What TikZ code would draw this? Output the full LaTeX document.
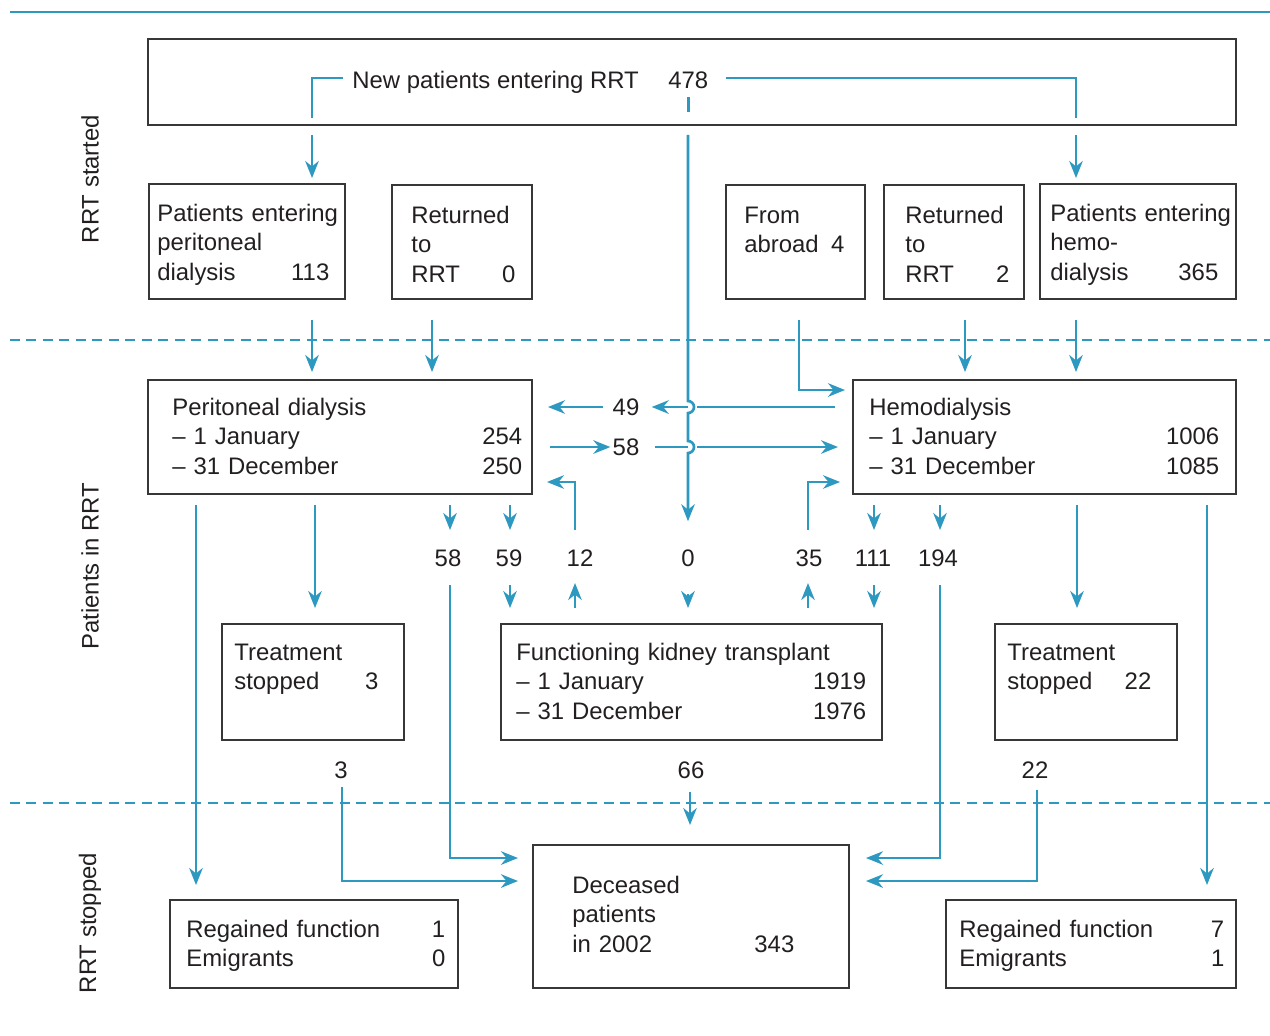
\documentclass[tikz,border=0pt]{standalone}
\usepackage{fontspec}
\setmainfont{Liberation Sans}
\usepackage{tikz}
\usetikzlibrary{arrows.meta,calc}

\definecolor{rrtblue}{RGB}{45,152,192}
\definecolor{boxgray}{RGB}{55,55,55}
\definecolor{inkgray}{RGB}{35,31,32}
\newcommand{\chartfont}{\fontsize{13.6}{16.8}\selectfont}

\begin{document}
\begin{tikzpicture}[
		x=0.02cm, y=-0.02cm,
		box/.style={draw=boxgray, line width=0.8pt, inner sep=0pt, outer sep=0pt},
		body/.style={anchor=base west, inner sep=0pt, align=left, text=inkgray, font=\chartfont},
		num/.style={inner sep=0pt, text=inkgray, font=\chartfont},
		side/.style={rotate=90, inner sep=0pt, text=inkgray, font=\chartfont},
		feed/.style={draw=rrtblue, line width=1.5pt},
		flow/.style={feed, -{Stealth[length=0.34cm, width=0.27cm, inset=0.11cm]}},
		divider/.style={draw=rrtblue, line width=0.6pt, dash pattern=on 0.2cm off 0.13cm}
		]
		
		\useasboundingbox (0,0) rectangle (1270,1035);
		
		% rules
		\draw[feed] (10,12) -- (1270,12);
		\draw[divider] (10,340) -- (1270,340);
		\draw[divider] (10,803) -- (1270,803);
		
		% side titles
		\node[side] (started) at (90,179) {RRT started};
		\node[side] (inrrt) at (90,566) {Patients in RRT};
		\node[side] (stopped) at (90,923) {RRT stopped};
		
		% boxes
		\node[box, minimum width=21.76cm, minimum height=1.72cm] (top) at (692,82) {};
		\node[box, minimum width=3.92cm, minimum height=2.3cm] (pdin) at (247,241.5) {};
		\node[box, minimum width=2.8cm, minimum height=2.28cm] (retpd) at (462,242) {};
		\node[box, minimum width=2.78cm, minimum height=2.28cm] (abroad) at (795.5,242) {};
		\node[box, minimum width=2.8cm, minimum height=2.28cm] (rethd) at (954,242) {};
		\node[box, minimum width=3.92cm, minimum height=2.3cm] (hdin) at (1138,241.5) {};
		\node[box, minimum width=7.68cm, minimum height=2.28cm] (pd) at (340,437) {};
		\node[box, minimum width=7.66cm, minimum height=2.28cm] (hd) at (1044.5,437) {};
		\node[box, minimum width=3.64cm, minimum height=2.32cm] (stoppd) at (313,682) {};
		\node[box, minimum width=7.62cm, minimum height=2.32cm] (tx) at (691.5,682) {};
		\node[box, minimum width=3.64cm, minimum height=2.32cm] (stophd) at (1086,682) {};
		\node[box, minimum width=6.32cm, minimum height=2.86cm] (dead) at (691,916.5) {};
		\node[box, minimum width=5.76cm, minimum height=1.76cm] (regpd) at (314,944) {};
		\node[box, minimum width=5.8cm, minimum height=1.76cm] (reghd) at (1091,944) {};
		
		% box texts
		\node[body] (newpt) at (352,88) {New patients entering RRT};
		\node[body] (n478) at (668,88) {478};
		\node[body, text width=3.7cm] (pdintxt) at (157,221)
		{Patients entering\\peritoneal\\dialysis\hfill 113\hspace*{0.26cm}};
		\node[body, text width=2.08cm] (retpdtxt) at (411,223) {Returned\\to\\RRT\hfill 0};
		\node[body, text width=2cm] (abroadtxt) at (744,223) {From\\abroad\hfill 4};
		\node[body, text width=2.08cm] (rethdtxt) at (905,223) {Returned\\to\\RRT\hfill 2};
		\node[body, text width=3.7cm] (hdintxt) at (1050,221)
		{Patients entering\\hemo-\\dialysis\hfill 365\hspace*{0.34cm}};
		\node[body, text width=7cm] (pdtxt) at (172,415)
		{Peritoneal dialysis\\– 1 January\hfill 254\\– 31 December\hfill 250};
		\node[body, text width=7cm] (hdtxt) at (869,415)
		{Hemodialysis\\– 1 January\hfill 1006\\– 31 December\hfill 1085};
		\node[body, text width=2.88cm] (stoppdtxt) at (234,660) {Treatment\\stopped\hfill 3};
		\node[body, text width=7cm] (txtxt) at (516,660)
		{Functioning kidney transplant\\– 1 January\hfill 1919\\– 31 December\hfill 1976};
		\node[body, text width=2.88cm] (stophdtxt) at (1007,660) {Treatment\\stopped\hfill 22};
		\node[body, text width=4.44cm] (deadtxt) at (572,893) {Deceased\\patients\\in 2002\hfill 343};
		\node[body, text width=5.18cm] (regpdtxt) at (186,937) {Regained function\hfill 1\\Emigrants\hfill 0};
		\node[body, text width=5.3cm] (reghdtxt) at (959,937) {Regained function\hfill 7\\Emigrants\hfill 1};
		
		% flow numbers
		\node[num] (n49) at (626,407) {49};
		\node[num] (n58r) at (626,447) {58};
		\node[num] (n58) at (448,558) {58};
		\node[num] (n59) at (509,558) {59};
		\node[num] (n12) at (580,558) {12};
		\node[num] (n0) at (688,558) {0};
		\node[num] (n35) at (809,558) {35};
		\node[num] (n111) at (873,558) {111};
		\node[num] (n194) at (938,558) {194};
		\node[num] (n3) at (341,770) {3};
		\node[num] (n66) at (691,770) {66};
		\node[num] (n22) at (1035,770) {22};
		
		% columns
		\coordinate (pdcol) at (312,0);
		\coordinate (retpdcol) at (432,0);
		\coordinate (abroadcol) at (799,0);
		\coordinate (rethdcol) at (965,0);
		\coordinate (hdcol) at (1076,0);
		\coordinate (regpdcol) at (196,0);
		\coordinate (stoppdcol) at (315,0);
		\coordinate (stophdcol) at (1077,0);
		\coordinate (reghdcol) at (1207,0);
		
		% new patients
		\draw[feed] ($(newpt.base west)+(-9,-10)$) -| ($(top.south -| pdcol)+(0,-7)$);
		\draw[feed] ($(n478.base east)+(17,-10)$) -| ($(top.south -| hdcol)+(0,-7)$);
		\draw[feed] ($(n478.base)+(0,9)$) -- ($(top.south -| n478.base)+(0,-13)$);
		\draw[flow, shorten <=0.2cm, shorten >=0.12cm] (top.south -| pdcol) -- (pdin.north -| pdcol);
		\draw[flow, shorten <=0.2cm, shorten >=0.12cm] (top.south -| hdcol) -- (hdin.north -| hdcol);
		\draw[flow, shorten >=0.56cm] ($(top.south -| n0)+(0,10)$) -- ($(n0 |- n49)+(0,-6)$)
		arc[start angle=-90, end angle=90, radius=6] -- ($(n0 |- n58r)+(0,-6)$)
		arc[start angle=-90, end angle=90, radius=6] -- (n0);
		
		% into dialysis
		\draw[flow, shorten <=0.42cm, shorten >=0.16cm] (pdin.south -| pdcol) -- (pd.north -| pdcol);
		\draw[flow, shorten <=0.42cm, shorten >=0.16cm] (retpd.south -| retpdcol) -- (pd.north -| retpdcol);
		\draw[flow, shorten <=0.42cm, shorten >=0.16cm] (rethd.south -| rethdcol) -- (hd.north -| rethdcol);
		\draw[flow, shorten <=0.42cm, shorten >=0.16cm] (hdin.south -| hdcol) -- (hd.north -| hdcol);
		\draw[flow, shorten <=0.42cm, shorten >=0.16cm] (abroad.south -| abroadcol) |- ($(hd.north west)+(0,10)$);
		
		% between dialysis modes
		\draw[feed] ($(hd.west |- n49)+(-18,0)$) -- ($(n0 |- n49)+(9,0)$);
		\draw[flow] (n0 |- n49) -- ($(n49.east)+(12,0)$);
		\draw[flow] ($(n49.west)+(-9,0)$) -- ($(pd.east |- n49)+(16,0)$);
		\draw[flow] ($(pd.east |- n58r)+(18,0)$) -- ($(n58r.west)+(-2,0)$);
		\draw[feed] ($(n58r.east)+(15,0)$) -- (n0 |- n58r);
		\draw[flow] ($(n0 |- n58r)+(9,0)$) -- ($(hd.west |- n58r)+(-15,0)$);
		
		% to and from transplant
		\draw[flow] ($(pd.south -| n58)+(2,11)$) -- ($(n58)+(2,-28)$);
		\draw[flow] ($(pd.south -| n59)+(1,11)$) -- ($(n59)+(1,-28)$);
		\draw[flow] ($(n59)+(1,27)$) -- ($(tx.north -| n59)+(1,-16)$);
		\draw[flow] ($(n12)+(-5,-28)$) |- ($(pd.south east)+(15,-12)$);
		\draw[flow] ($(tx.north -| n12)+(-5,-16)$) -- ($(n12)+(-5,25)$);
		\draw[flow, shorten <=0.54cm, shorten >=0.32cm] (n0) -- (tx.north -| n0);
		\draw[flow] ($(n35)+(-1,-28)$) |- ($(hd.south west)+(-13,-12)$);
		\draw[flow] ($(tx.north -| n35)+(-1,-16)$) -- ($(n35)+(-1,25)$);
		\draw[flow] ($(hd.south -| n111)+(1,11)$) -- ($(n111)+(1,-28)$);
		\draw[flow] ($(n111)+(1,27)$) -- ($(tx.north -| n111)+(1,-16)$);
		\draw[flow] ($(hd.south -| n194)+(2,11)$) -- ($(n194)+(2,-28)$);
		
		% stopping
		\draw[flow, shorten <=0.22cm, shorten >=0.3cm] (pd.south -| regpdcol) -- (regpd.north -| regpdcol);
		\draw[flow, shorten <=0.22cm, shorten >=0.32cm] (pd.south -| stoppdcol) -- (stoppd.north -| stoppdcol);
		\draw[flow, shorten <=0.22cm, shorten >=0.32cm] (hd.south -| stophdcol) -- (stophd.north -| stophdcol);
		\draw[flow, shorten <=0.22cm, shorten >=0.3cm] (hd.south -| reghdcol) -- (reghd.north -| reghdcol);
		
		% deaths
		\draw[flow] ($(n58)+(2,27)$) |- ($(dead.north west)+(-15,13)$);
		\draw[flow] ($(n3)+(1,17)$) |- ($(dead.north west)+(-15,36)$);
		\draw[flow] ($(n66)+(-1,22)$) -- ($(dead.north -| n66)+(-1,-20)$);
		\draw[flow] ($(n194)+(2,27)$) |- ($(dead.north east)+(17,13)$);
		\draw[flow] ($(n22)+(2,20)$) |- ($(dead.north east)+(17,36)$);
		
\end{tikzpicture}
\end{document}
